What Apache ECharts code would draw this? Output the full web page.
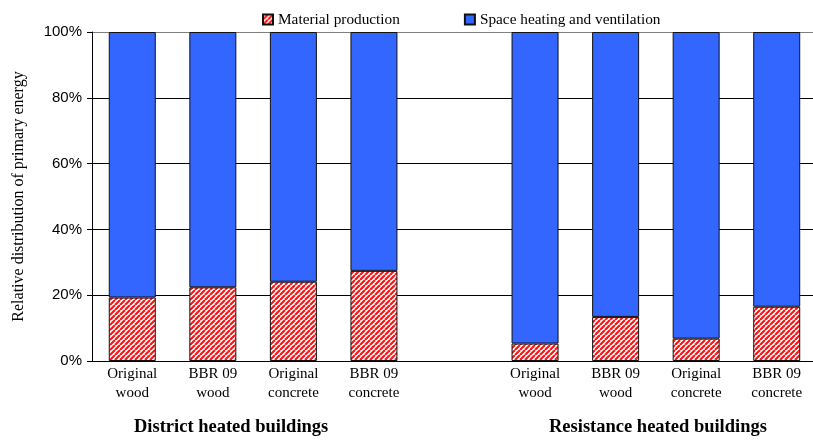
<!DOCTYPE html>
<html>
<head>
<meta charset="utf-8">
<script src="https://cdn.jsdelivr.net/npm/echarts@6/dist/echarts.min.js"></script>
<style>
  html, body { margin: 0; padding: 0; background: #fff; }
  #chart { width: 813px; height: 441px; }
</style>
</head>
<body>
<div id="chart"></div>
<script>
// Building variants; the empty slot separates the two heating systems
const categories = [
  'Original\nwood', 'BBR 09\nwood', 'Original\nconcrete', 'BBR 09\nconcrete',
  '',
  'Original\nwood', 'BBR 09\nwood', 'Original\nconcrete', 'BBR 09\nconcrete'
];

// Share of primary energy (%)
const materialProduction = [19.3, 22.4, 24.1, 27.4, null, 5.3, 13.4, 6.8, 16.5];
const spaceHeating = [80.7, 77.6, 75.9, 72.6, null, 94.7, 86.6, 93.2, 83.5];

const yTicks = [0, 20, 40, 60, 80, 100];
const groupTitles = ['District heated buildings', 'Resistance heated buildings'];

// Red diagonal hatch fill
function hatchPattern() {
  const size = 5;
  const c = document.createElement('canvas');
  c.width = size; c.height = size;
  const ctx = c.getContext('2d');
  ctx.fillStyle = '#ffffff';
  ctx.fillRect(0, 0, size, size);
  ctx.strokeStyle = '#ff1010';
  ctx.lineWidth = 2.1;
  ctx.beginPath();
  for (let k = -1; k <= 1; k++) {
    ctx.moveTo(k * size, size);
    ctx.lineTo(k * size + size, 0);
  }
  ctx.stroke();
  return { image: c, repeat: 'repeat' };
}

const chart = echarts.init(document.getElementById('chart'), null, { renderer: 'canvas' });
const serif = '"Liberation Serif", "Times New Roman", serif';
const sans = '"Liberation Sans", Arial, sans-serif';

const toSeries = arr => arr.map(v => (v == null ? '-' : v));

chart.setOption({
  animation: false,
  backgroundColor: '#ffffff',
  legend: {
    top: 7,
    left: 257,
    icon: 'rect',
    itemWidth: 10,
    itemHeight: 10,
    itemGap: 64,
    textStyle: { fontFamily: serif, fontSize: 15.3, color: '#000' },
    data: ['Material production', 'Space heating and ventilation']
  },
  grid: {
    left: 92, top: 32, width: 725, height: 329,
    containLabel: false, outerBoundsMode: 'none'
  },
  xAxis: {
    type: 'category',
    data: categories,
    axisLine: { lineStyle: { color: '#000', width: 1 } },
    axisTick: { show: false },
    axisLabel: {
      interval: 0,
      fontFamily: serif,
      fontSize: 15,
      color: '#000',
      lineHeight: 19.5,
      margin: 3
    }
  },
  yAxis: {
    type: 'value',
    min: yTicks[0],
    max: yTicks[yTicks.length - 1],
    interval: 20,
    name: 'Relative distribution of primary energy',
    nameLocation: 'middle',
    nameGap: 65,
    nameTextStyle: { fontFamily: serif, fontSize: 16, color: '#000' },
    axisLine: { show: true, lineStyle: { color: '#000', width: 1 } },
    axisTick: { show: true, length: 5, lineStyle: { color: '#000' } },
    axisLabel: {
      formatter: v => v + '%',
      fontFamily: sans,
      fontSize: 15,
      color: '#000',
      margin: 10
    },
    splitLine: {
      show: true,
      lineStyle: { color: ['#000', '#000', '#000', '#000', '#000', '#808080'], width: 1 }
    }
  },
  series: [
    {
      name: 'Material production',
      type: 'bar',
      stack: 'total',
      barWidth: 47,
      data: toSeries(materialProduction),
      itemStyle: { color: hatchPattern(), borderColor: '#111', borderWidth: 1 }
    },
    {
      name: 'Space heating and ventilation',
      type: 'bar',
      stack: 'total',
      barWidth: 47,
      data: toSeries(spaceHeating),
      itemStyle: { color: '#3366ff', borderColor: '#111', borderWidth: 1 }
    }
  ],
  graphic: [
    {
      type: 'text', left: 134, top: 418,
      style: { text: groupTitles[0], font: 'bold 18.5px ' + serif, fill: '#000' }
    },
    {
      type: 'text', left: 549, top: 418,
      style: { text: groupTitles[1], font: 'bold 18.5px ' + serif, fill: '#000' }
    }
  ]
});
</script>
</body>
</html>
